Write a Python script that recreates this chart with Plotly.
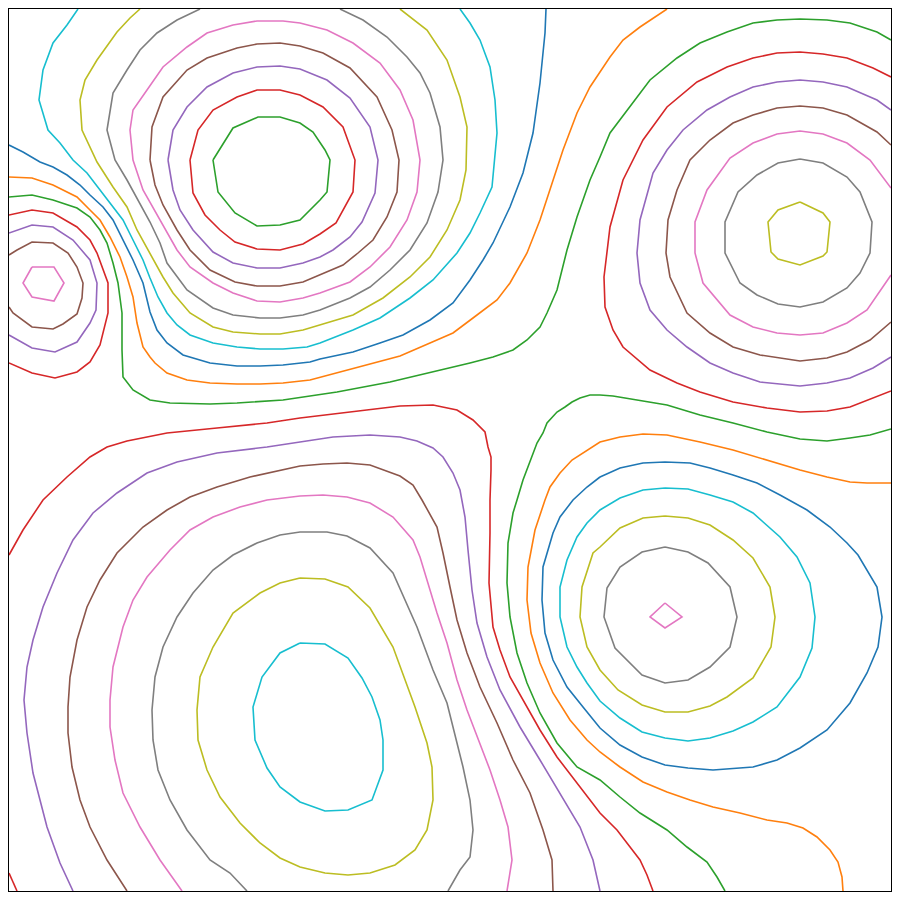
import plotly.graph_objects as go

# Contour paths (x, y in plot units; y grows downward)
# Each entry: (level index, list of points)

tl_green_2 = [(213,160),(233,128),(258,117),(280,117),(300,123),(313,132),(325,150),(330,160),(327,192),(320,200),(300,220),(280,225),(257,226),(235,213),(218,192),(213,160)]
tl_red_3 = [(190,160),(198,130),(213,110),(237,97),(257,90),(280,90),(300,95),(323,107),(343,127),(355,160),(353,192),(345,207),(336,223),(320,234),(303,244),(280,250),(257,249),(235,242),(220,230),(205,215),(193,193),(190,160)]
tl_purple_4 = [(168,160),(173,130),(187,107),(207,87),(233,73),(257,67),(280,66),(300,69),(327,80),(350,98),(370,127),(378,160),(375,193),(362,222),(350,237),(333,250),(320,257),(303,263),(280,268),(257,268),(233,263),(213,252),(193,230),(180,210),(173,190),(168,160)]
tl_brown_5 = [(150,160),(152,127),(163,97),(187,70),(207,58),(237,48),(257,44),(280,43),(300,46),(323,53),(350,68),(377,97),(392,130),(399,160),(397,192),(387,217),(373,240),(358,253),(343,265),(327,272),(303,282),(280,286),(257,286),(235,282),(210,270),(190,250),(177,230),(163,205),(155,185),(150,160)]
tl_pink_6 = [(130,130),(133,110),(147,90),(163,67),(187,47),(207,33),(233,25),(257,21),(283,21),(300,23),(327,30),(353,43),(380,63),(400,90),(413,120),(420,160),(417,192),(407,220),(390,247),(370,267),(350,282),(320,293),(303,298),(280,302),(257,301),(233,293),(213,283),(190,267),(177,250),(160,220),(143,190),(133,160),(130,130)]
tl_gray_7 = [(200,9),(177,20),(157,33),(140,50),(127,70),(113,93),(107,130),(115,160),(127,180),(140,203),(150,222),(160,243),(167,263),(187,290),(213,308),(233,315),(260,318),(280,318),(303,315),(320,310),(350,298),(370,287),(390,270),(410,250),(427,223),(438,192),(443,160),(440,127),(430,93),(420,73),(407,57),(387,37),(363,20),(340,9)]
tl_olive_8 = [(140,9),(130,18),(117,32),(97,60),(85,80),(80,100),(82,130),(97,162),(113,187),(127,207),(137,230),(150,253),(163,277),(173,293),(190,313),(213,327),(233,332),(260,334),(280,334),(303,330),(330,322),(353,315),(383,298),(410,277),(430,257),(447,230),(460,200),(466,170),(467,127),(460,97),(447,60),(427,30),(400,9)]
tl_cyan_9 = [(78,9),(67,25),(53,43),(43,70),(39,100),(48,130),(60,143),(73,160),(87,173),(100,190),(113,207),(123,220),(133,240),(143,260),(150,278),(158,297),(167,313),(177,325),(190,335),(213,343),(237,347),(260,349),(283,349),(307,347),(320,343),(353,330),(380,318),(410,298),(433,280),(457,253),(470,233),(480,213),(492,187),(497,133),(495,100),(490,67),(480,40),(470,23),(460,9)]
top_blue_10 = [(9,145),(23,152),(40,162),(53,167),(67,175),(80,185),(90,195),(103,207),(113,220),(123,240),(133,260),(143,283),(150,312),(157,330),(167,343),(183,355),(210,363),(237,366),(260,366),(283,365),(310,362),(320,359),(353,352),(380,343),(403,335),(430,320),(453,303),(470,280),(483,260),(493,243),(510,207),(523,173),(533,133),(540,83),(545,33),(546,9)]
top_orange_11 = [(9,177),(32,178),(53,185),(77,197),(90,210),(100,220),(110,237),(120,257),(127,277),(133,297),(137,323),(143,347),(150,357),(155,363),(167,373),(187,380),(210,383),(237,384),(260,384),(283,383),(310,380),(337,373),(367,365),(400,356),(430,343),(453,333),(473,318),(497,300),(510,283),(527,253),(540,220),(553,180),(563,150),(577,113),(590,87),(600,72),(610,57),(623,40),(640,27),(667,9)]
top_green_12 = [(891,40),(877,32),(850,23),(827,20),(800,19),(777,20),(753,23),(727,32),(700,43),(677,58),(650,80),(627,110),(610,133),(600,157),(590,180),(577,217),(567,250),(557,290),(547,313),(540,327),(527,340),(513,350),(493,357),(470,363),(440,370),(400,379),(390,382),(337,392),(283,400),(237,403),(210,404),(170,403),(150,400),(133,390),(123,377),(122,350),(122,313),(118,283),(113,263),(107,243),(100,230),(90,217),(77,208),(53,200),(32,195),(9,197)]

lb_red_13 = [(9,215),(32,210),(53,213),(77,227),(90,240),(97,253),(108,283),(108,313),(100,345),(90,362),(77,372),(55,378),(32,373),(9,363)]
lb_purple_14 = [(9,233),(32,225),(53,227),(73,240),(90,260),(97,283),(96,310),(90,323),(77,342),(55,352),(32,348),(9,335)]
lb_brown_15 = [(9,255),(17,250),(32,242),(53,243),(68,253),(77,267),(83,283),(82,298),(77,314),(63,324),(53,329),(32,327),(13,313),(9,307)]
lb_pink_16 = [(32,267),(54,267),(64,283),(54,301),(32,297),(23,283),(32,267)]

tr_red_13 = [(891,77),(873,68),(847,58),(823,54),(800,52),(777,53),(753,58),(727,67),(697,82),(667,107),(643,140),(623,180),(610,227),(604,277),(605,307),(613,330),(623,347),(650,370),(677,383),(700,392),(733,402),(767,408),(800,412),(827,411),(850,407),(873,398),(891,391)]
tr_purple_14 = [(891,110),(877,100),(847,87),(823,82),(800,80),(777,82),(753,87),(730,97),(707,110),(683,130),(667,150),(653,173),(640,220),(637,253),(640,283),(650,310),(667,330),(687,347),(710,363),(733,373),(760,382),(800,386),(827,383),(850,378),(873,368),(891,357)]
tr_brown_15 = [(891,145),(877,132),(847,115),(823,108),(800,106),(777,108),(753,115),(733,123),(710,140),(690,160),(677,190),(668,220),(666,253),(670,277),(687,313),(710,333),(733,347),(760,355),(800,361),(827,358),(847,352),(870,340),(891,322)]
tr_pink_16 = [(891,188),(870,160),(847,143),(823,134),(800,131),(777,134),(753,143),(730,158),(707,190),(695,222),(695,253),(703,283),(730,315),(753,327),(777,333),(800,335),(823,333),(847,323),(867,310),(891,275)]
tr_gray_17 = [(800,159),(823,163),(847,177),(860,192),(872,222),(870,253),(860,273),(847,288),(823,302),(800,307),(778,304),(757,295),(740,283),(725,253),(725,222),(738,192),(757,175),(778,163),(800,159)]
tr_olive_18 = [(800,202),(823,213),(830,222),(827,252),(823,256),(800,265),(778,259),(771,252),(768,222),(778,210),(800,202)]

bl_red_13 = [(9,555),(23,530),(43,500),(67,477),(90,457),(107,447),(127,441),(167,433),(217,428),(267,423),(300,418),(350,412),(400,406),(433,405),(457,410),(473,420),(485,432),(488,447),(491,457),(491,470),(490,500),(490,533),(489,583),(493,627),(500,650),(510,677),(527,707),(540,730),(557,757),(577,783),(600,813),(617,830),(627,843),(640,860),(647,875),(653,891)]
bl_corner_red_13 = [(9,873),(13,882),(17,891)]
bl_purple_14 = [(73,891),(60,863),(47,827),(33,773),(27,733),(24,700),(27,667),(33,640),(43,607),(57,573),(73,540),(93,513),(117,493),(147,473),(177,462),(217,453),(267,447),(300,442),(333,437),(370,435),(400,437),(417,441),(433,448),(443,457),(453,473),(460,490),(463,505),(465,517),(468,550),(472,590),(477,623),(487,657),(500,690),(520,727),(540,760),(560,793),(580,827),(593,860),(600,891)]
bl_brown_15 = [(127,891),(107,860),(90,827),(80,800),(72,767),(68,733),(68,707),(70,677),(77,640),(87,607),(100,580),(117,553),(143,527),(167,510),(190,497),(217,487),(250,477),(283,470),(300,466),(323,464),(347,463),(370,465),(400,476),(413,485),(422,500),(437,527),(443,553),(450,587),(457,620),(467,653),(480,687),(497,723),(513,760),(530,793),(543,830),(552,860),(553,891)]
bl_pink_16 = [(182,891),(160,860),(140,827),(123,793),(115,760),(110,727),(110,700),(113,667),(123,627),(133,600),(147,577),(170,550),(190,530),(213,517),(240,507),(267,500),(300,496),(323,495),(347,497),(370,503),(393,517),(413,540),(420,557),(427,580),(437,613),(447,643),(457,680),(467,710),(480,743),(490,770),(500,800),(508,827),(512,860),(507,891)]
bl_gray_17 = [(247,891),(230,873),(210,860),(187,830),(170,800),(158,770),(153,740),(152,710),(155,677),(163,647),(177,617),(193,593),(213,570),(233,555),(257,543),(280,535),(300,532),(327,532),(347,536),(370,548),(393,573),(417,627),(433,670),(447,703),(463,767),(470,800),(473,830),(470,857),(460,870),(448,891)]
bl_olive_18 = [(300,578),(325,579),(348,587),(370,608),(393,647),(415,707),(427,743),(432,767),(433,800),(427,830),(415,850),(395,865),(370,873),(348,875),(325,873),(300,867),(280,858),(260,843),(240,823),(220,797),(207,770),(198,740),(197,710),(200,677),(213,647),(233,613),(260,593),(280,583),(300,578)]
bl_cyan_19 = [(300,643),(325,644),(348,658),(362,678),(372,697),(380,720),(383,740),(383,770),(372,800),(348,810),(325,811),(300,802),(280,787),(267,768),(255,740),(253,707),(262,677),(280,653),(300,643)]

br_pink_6 = [(665,603),(682,617),(665,628),(650,617),(665,603)]
br_gray_7 = [(665,547),(688,552),(708,563),(730,587),(737,617),(730,647),(710,667),(688,680),(665,683),(642,675),(615,648),(604,617),(607,588),(620,567),(642,552),(665,547)]
br_olive_8 = [(665,516),(688,518),(710,525),(733,540),(753,558),(770,587),(775,617),(771,647),(753,678),(727,697),(710,706),(688,712),(665,712),(642,705),(618,690),(600,670),(587,647),(580,617),(582,587),(593,553),(600,547),(620,528),(643,518),(665,516)]
br_cyan_9 = [(665,488),(688,489),(710,495),(733,502),(753,513),(780,537),(797,557),(810,583),(815,617),(812,648),(800,677),(777,707),(753,722),(733,731),(710,738),(688,741),(665,738),(642,732),(620,718),(600,701),(587,683),(577,667),(567,647),(560,617),(560,587),(567,560),(577,537),(587,523),(600,510),(620,498),(643,490),(665,488)]
br_blue_10 = [(600,477),(620,468),(643,463),(665,462),(690,463),(710,468),(733,475),(757,483),(780,495),(807,510),(830,527),(847,543),(858,555),(867,570),(877,587),(882,617),(878,647),(867,673),(850,703),(827,730),(800,748),(777,760),(753,767),(713,770),(688,768),(665,765),(642,757),(620,745),(600,728),(583,707),(567,687),(553,660),(545,633),(542,600),(543,567),(553,533),(560,517),(573,500),(587,487),(600,477)]
br_orange_11 = [(891,483),(867,483),(850,482),(827,477),(800,470),(767,460),(733,450),(700,442),(667,435),(643,434),(620,437),(600,442),(587,450),(572,460),(560,473),(550,487),(545,500),(535,530),(528,567),(527,600),(531,633),(540,663),(553,693),(570,720),(587,740),(600,752),(620,767),(643,782),(667,792),(690,800),(713,807),(740,813),(767,820),(787,823),(803,828),(817,837),(830,850),(838,862),(842,877),(843,891)]
br_green_12 = [(891,429),(870,435),(850,438),(827,441),(800,439),(767,432),(733,423),(700,415),(667,405),(627,398),(613,396),(600,395),(590,395),(580,398),(572,402),(565,407),(557,412),(547,423),(543,433),(537,443),(530,462),(523,480),(517,500),(513,513),(508,543),(507,583),(510,617),(517,653),(527,683),(540,713),(557,743),(577,767),(600,780),(620,797),(640,813),(667,830),(687,847),(707,862),(717,877),(725,891)]

paths = [
    (2, tl_green_2), (3, tl_red_3), (4, tl_purple_4), (5, tl_brown_5), (6, tl_pink_6),
    (7, tl_gray_7), (8, tl_olive_8), (9, tl_cyan_9), (10, top_blue_10), (11, top_orange_11),
    (12, top_green_12),
    (13, lb_red_13), (14, lb_purple_14), (15, lb_brown_15), (16, lb_pink_16),
    (13, tr_red_13), (14, tr_purple_14), (15, tr_brown_15), (16, tr_pink_16), (17, tr_gray_17), (18, tr_olive_18),
    (13, bl_red_13), (13, bl_corner_red_13), (14, bl_purple_14), (15, bl_brown_15), (16, bl_pink_16),
    (17, bl_gray_17), (18, bl_olive_18), (19, bl_cyan_19),
    (6, br_pink_6), (7, br_gray_7), (8, br_olive_8), (9, br_cyan_9), (10, br_blue_10), (11, br_orange_11), (12, br_green_12),
]

tab10 = ['#1f77b4', '#ff7f0e', '#2ca02c', '#d62728', '#9467bd',
         '#8c564b', '#e377c2', '#7f7f7f', '#bcbd22', '#17becf']

fig = go.Figure()
for level, pts in paths:
    xs = [p[0] for p in pts]
    ys = [p[1] for p in pts]
    fig.add_trace(go.Scatter(x=xs, y=ys, mode='lines',
                             line=dict(color=tab10[level % 10], width=1.6),
                             hoverinfo='skip', showlegend=False))

fig.update_xaxes(range=[9, 891], showgrid=False, zeroline=False, showticklabels=False,
                 ticks='', showline=True, mirror=True, linecolor='black', linewidth=1)
fig.update_yaxes(range=[891, 9], showgrid=False, zeroline=False, showticklabels=False,
                 ticks='', showline=True, mirror=True, linecolor='black', linewidth=1)
fig.update_layout(width=900, height=900, margin=dict(l=9, r=9, t=9, b=9),
                  plot_bgcolor='white', paper_bgcolor='white', showlegend=False)

fig.write_html("out.html")
